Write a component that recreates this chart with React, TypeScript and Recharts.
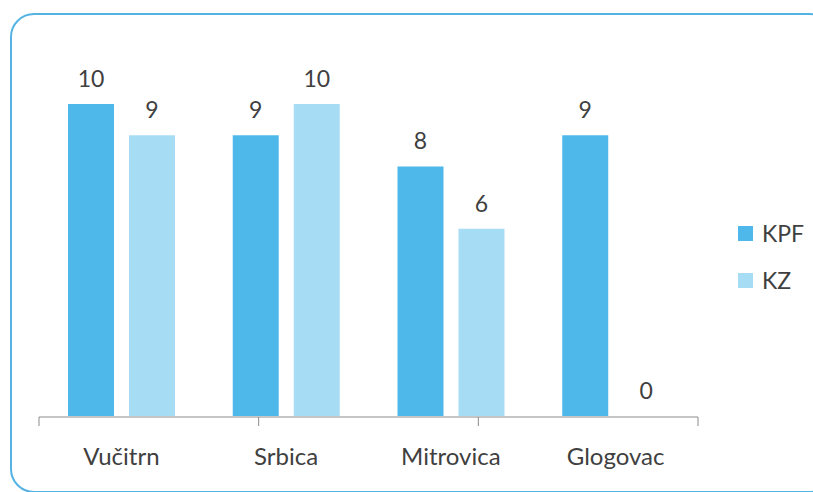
import { Bar, BarChart, LabelList, Legend, XAxis, YAxis } from "recharts";

const towns = ["Vučitrn", "Srbica", "Mitrovica", "Glogovac"];
const kpf = [10, 9, 8, 9];
const kz = [9, 10, 6, 0];
const boundaryTicks = [0, 1, 2, 3, 4];

const KPF_COLOR = "#4fb8ea";
const KZ_COLOR = "#a7dcf5";
const TEXT = "#404040";
const FONT = "Lato, 'Open Sans', sans-serif";
const FONT_SIZE = 24;

const data = towns.map((town, i) => ({ town, KPF: kpf[i], KZ: kz[i] }));

function LegendBox({ payload }: any) {
  return (
    <div style={{ fontFamily: FONT, fontSize: FONT_SIZE - 1, color: TEXT }}>
      {(payload || []).map((p: any, i: number) => (
        <div
          key={p.value}
          style={{
            display: "flex",
            alignItems: "center",
            height: 15,
            marginBottom: i === 0 ? 32 : 0,
          }}
        >
          <span style={{ width: 15, height: 15, background: p.color, display: "inline-block", marginRight: 9 }} />
          <span style={{ lineHeight: "15px" }}>{p.value}</span>
        </div>
      ))}
    </div>
  );
}

// value label above a bar; also drawn for zero-height bars
function TopLabel(props: any) {
  const { x, y, width, height, value } = props;
  if (value == null) return null;
  const top = Math.min(y, y + (height || 0));
  return (
    <text
      x={x + width / 2}
      y={top - 17}
      textAnchor="middle"
      fill={TEXT}
      fontSize={FONT_SIZE - 1}
      fontFamily={FONT}
    >
      {value}
    </text>
  );
}

export default function App() {
  return (
    <div style={{ position: "absolute", left: 0, top: 0, width: 813, height: 492, overflow: "hidden", background: "#fff" }}>
      {/* rounded frame, runs off the right edge like the source slide */}
      <div
        style={{
          position: "absolute",
          left: 10,
          top: 13,
          width: 820,
          height: 476,
          border: "2px solid #55b3e3",
          borderRadius: 24,
        }}
      />
      <div style={{ position: "absolute", left: 0, top: 0 }}>
        <BarChart
          width={813}
          height={492}
          data={data}
          margin={{ top: 41.6, right: 115, left: 39, bottom: 74 }}
          barSize={46}
          barGap={15}
        >
          <XAxis
            xAxisId="grid"
            type="number"
            domain={[0, 4]}
            ticks={boundaryTicks}
            allowDataOverflow
            height={1}
            tickFormatter={() => ""}
            tickSize={9}
            axisLine={{ stroke: "#8c8c8c" }}
            tickLine={{ stroke: "#8c8c8c" }}
          />
          <XAxis
            xAxisId="cat"
            dataKey="town"
            height={1}
            axisLine={false}
            tickLine={false}
            tickSize={0}
            tickMargin={32}
            tick={{ fontSize: FONT_SIZE, fill: TEXT, fontFamily: FONT }}
          />
          <YAxis hide width={0} domain={[0, 12]} />
          <Legend
            layout="vertical"
            align="center"
            verticalAlign="middle"
            content={<LegendBox />}
            wrapperStyle={{ left: 738, top: 226, width: 80 }}
          />
          <Bar dataKey="KPF" xAxisId="cat" fill={KPF_COLOR} isAnimationActive={false}>
            <LabelList dataKey="KPF" content={<TopLabel />} />
          </Bar>
          <Bar dataKey="KZ" xAxisId="cat" fill={KZ_COLOR} minPointSize={0.01} isAnimationActive={false}>
            <LabelList dataKey="KZ" content={<TopLabel />} />
          </Bar>
        </BarChart>
      </div>
    </div>
  );
}
